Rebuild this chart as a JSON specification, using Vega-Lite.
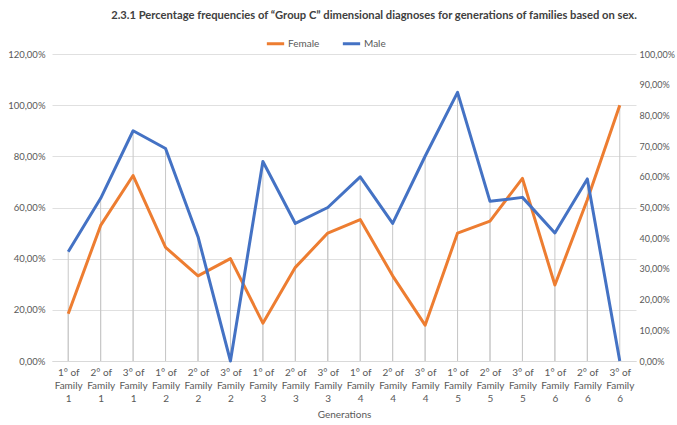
{
  "$schema": "https://vega.github.io/schema/vega-lite/v6.json",
  "width": 584,
  "height": 307,
  "autosize": {"type": "none"},
  "padding": {"left": 52, "top": 54, "right": 41, "bottom": 64},
  "background": "white",
  "config": {
    "font": "Lato",
    "view": {"stroke": null},
    "axis": {"labelColor": "#595959", "labelFontSize": 10, "titleColor": "#595959", "titleFontSize": 10, "titleFontWeight": "normal"}
  },
  "title": {
    "text": "2.3.1 Percentage frequencies of \u201cGroup C\u201d dimensional diagnoses for generations of families based on sex.",
    "frame": "group",
    "anchor": "middle",
    "dx": 30,
    "offset": 12,
    "fontSize": 11.2,
    "fontWeight": "bold",
    "color": "#404040"
  },
  "data": {
    "values": [
      {"gen": "1° of Family 1", "sex": "Female", "pct": 0.185},
      {"gen": "2° of Family 1", "sex": "Female", "pct": 0.53},
      {"gen": "3° of Family 1", "sex": "Female", "pct": 0.725},
      {"gen": "1° of Family 2", "sex": "Female", "pct": 0.444},
      {"gen": "2° of Family 2", "sex": "Female", "pct": 0.333},
      {"gen": "3° of Family 2", "sex": "Female", "pct": 0.4},
      {"gen": "1° of Family 3", "sex": "Female", "pct": 0.148},
      {"gen": "2° of Family 3", "sex": "Female", "pct": 0.366},
      {"gen": "3° of Family 3", "sex": "Female", "pct": 0.5},
      {"gen": "1° of Family 4", "sex": "Female", "pct": 0.553},
      {"gen": "2° of Family 4", "sex": "Female", "pct": 0.333},
      {"gen": "3° of Family 4", "sex": "Female", "pct": 0.14},
      {"gen": "1° of Family 5", "sex": "Female", "pct": 0.5},
      {"gen": "2° of Family 5", "sex": "Female", "pct": 0.547},
      {"gen": "3° of Family 5", "sex": "Female", "pct": 0.714},
      {"gen": "1° of Family 6", "sex": "Female", "pct": 0.297},
      {"gen": "2° of Family 6", "sex": "Female", "pct": 0.63},
      {"gen": "3° of Family 6", "sex": "Female", "pct": 1.0},
      {"gen": "1° of Family 1", "sex": "Male", "pct": 0.356},
      {"gen": "2° of Family 1", "sex": "Male", "pct": 0.53},
      {"gen": "3° of Family 1", "sex": "Male", "pct": 0.75},
      {"gen": "1° of Family 2", "sex": "Male", "pct": 0.692},
      {"gen": "2° of Family 2", "sex": "Male", "pct": 0.405},
      {"gen": "3° of Family 2", "sex": "Male", "pct": 0.0},
      {"gen": "1° of Family 3", "sex": "Male", "pct": 0.65},
      {"gen": "2° of Family 3", "sex": "Male", "pct": 0.448},
      {"gen": "3° of Family 3", "sex": "Male", "pct": 0.5},
      {"gen": "1° of Family 4", "sex": "Male", "pct": 0.6},
      {"gen": "2° of Family 4", "sex": "Male", "pct": 0.448},
      {"gen": "3° of Family 4", "sex": "Male", "pct": 0.667},
      {"gen": "1° of Family 5", "sex": "Male", "pct": 0.875},
      {"gen": "2° of Family 5", "sex": "Male", "pct": 0.52},
      {"gen": "3° of Family 5", "sex": "Male", "pct": 0.533},
      {"gen": "1° of Family 6", "sex": "Male", "pct": 0.417},
      {"gen": "2° of Family 6", "sex": "Male", "pct": 0.593},
      {"gen": "3° of Family 6", "sex": "Male", "pct": 0.0}
    ]
  },
  "encoding": {
    "x": {
      "field": "gen",
      "type": "ordinal",
      "sort": null,
      "scale": {"type": "point", "padding": 0.5},
      "title": "Generations",
      "axis": {
        "labelAngle": 0,
        "labelExpr": "[slice(datum.label, 0, 5), 'Family', slice(datum.label, 13)]",
        "labelLineHeight": 13,
        "labelPadding": 6,
        "ticks": false,
        "domainColor": "#d9d9d9",
        "titlePadding": 6
      }
    }
  },
  "layer": [
    {
      "transform": [{"filter": "datum.sex === 'Female'"}],
      "mark": {"type": "rule", "color": "#c8c8c8", "strokeWidth": 1},
      "encoding": {
        "y": {"field": "pct", "type": "quantitative", "scale": {"domain": [0, 1.2], "nice": false}, "axis": null},
        "y2": {"datum": 0}
      }
    },
    {
      "transform": [{"filter": "datum.sex === 'Male'"}],
      "mark": {"type": "rule", "color": "#c8c8c8", "strokeWidth": 1},
      "encoding": {
        "y": {"field": "pct", "type": "quantitative", "scale": {"domain": [0, 1], "nice": false}, "axis": null},
        "y2": {"datum": 0}
      }
    },
    {
      "transform": [{"filter": "datum.sex === 'Female'"}],
      "mark": {"type": "line", "strokeWidth": 3, "strokeJoin": "round"},
      "encoding": {
        "y": {
          "field": "pct",
          "type": "quantitative",
          "scale": {"domain": [0, 1.2], "nice": false},
          "title": null,
          "axis": {
            "orient": "left",
            "values": [0, 0.2, 0.4, 0.6, 0.8, 1.0, 1.2],
            "labelExpr": "replace(format(datum.value, '.2%'), '.', ',')",
            "labelFontSize": 9.5,
            "grid": true,
            "gridColor": "#e0e0e0",
            "domain": false,
            "ticks": false,
            "labelPadding": 7
          }
        },
        "color": {
          "field": "sex",
          "type": "nominal",
          "scale": {"domain": ["Female", "Male"], "range": ["#ED7D31", "#4472C4"]},
          "legend": {
            "title": null,
            "orient": "none",
            "direction": "horizontal",
            "legendX": 213,
            "legendY": -21,
            "symbolType": "stroke",
            "symbolSize": 300,
            "symbolStrokeWidth": 3,
            "labelFontSize": 10,
            "labelColor": "#595959",
            "columnPadding": 16,
            "labelOffset": 2
          }
        }
      }
    },
    {
      "transform": [{"filter": "datum.sex === 'Male'"}],
      "mark": {"type": "line", "strokeWidth": 3, "strokeJoin": "round"},
      "encoding": {
        "y": {
          "field": "pct",
          "type": "quantitative",
          "scale": {"domain": [0, 1], "nice": false},
          "title": null,
          "axis": {
            "orient": "right",
            "values": [0, 0.1, 0.2, 0.3, 0.4, 0.5, 0.6, 0.7, 0.8, 0.9, 1.0],
            "labelExpr": "replace(format(datum.value, '.2%'), '.', ',')",
            "labelFontSize": 9,
            "grid": false,
            "domain": false,
            "ticks": false,
            "labelPadding": 3
          }
        },
        "color": {"field": "sex", "type": "nominal"}
      }
    }
  ],
  "resolve": {"scale": {"y": "independent"}}
}
